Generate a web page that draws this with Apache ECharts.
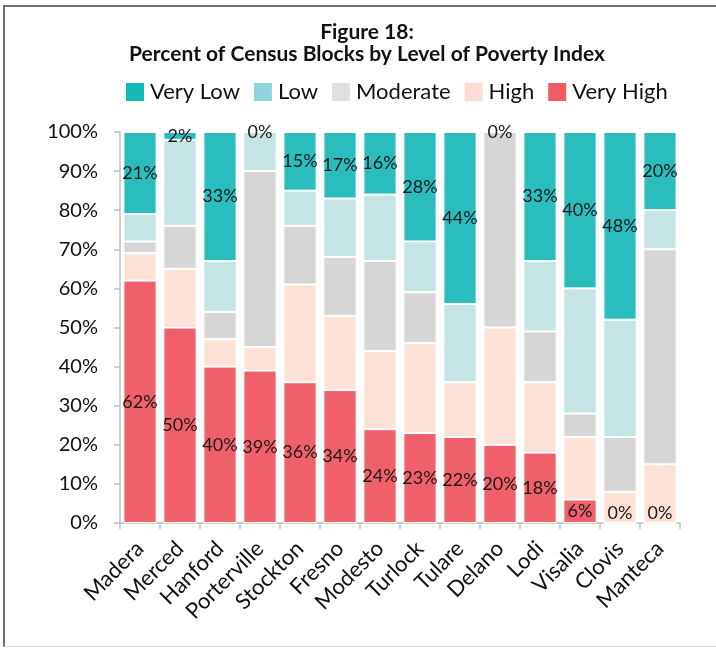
<!DOCTYPE html>
<html>
<head>
<meta charset="utf-8">
<script src="https://cdn.jsdelivr.net/npm/echarts@6/dist/echarts.min.js"></script>
<style>
  html, body { margin: 0; padding: 0; background: #fff; }
  #frame { position: absolute; left: 3px; top: 5px; width: 713px; height: 642px;
           border-top: 2px solid #6d6d72; border-left: 2px solid #6d6d72; border-bottom: 1px solid #dcdcdc; box-sizing: border-box; }
  #chart { position: absolute; left: 0; top: 0; width: 716px; height: 650px; }
</style>
</head>
<body>
<div id="frame"></div>
<div id="chart"></div>
<script>
const cities = ['Madera','Merced','Hanford','Porterville','Stockton','Fresno','Modesto','Turlock','Tulare','Delano','Lodi','Visalia','Clovis','Manteca'];
const veryHigh = [62, 50, 40, 39, 36, 34, 24, 23, 22, 20, 18, 6, 0, 0];
const high     = [7, 15, 7, 6, 25, 19, 20, 23, 14, 30, 18, 16, 8, 15];
const moderate = [3, 11, 7, 45, 15, 15, 23, 13, 0, 50, 13, 6, 14, 55];
const low      = [7, 22, 13, 10, 9, 15, 17, 13, 20, 0, 18, 32, 30, 10];
const veryLow  = [21, 2, 33, 0, 15, 17, 16, 28, 44, 0, 33, 40, 48, 20];
const levelNames = ['Very Low', 'Low', 'Moderate', 'High', 'Very High'];
const yTicks = [0, 10, 20, 30, 40, 50, 60, 70, 80, 90, 100];

const barColors = { 'Very Low': '#2bbdbd', 'Low': '#c4e5e3', 'Moderate': '#d6d6d6', 'High': '#fce1d6', 'Very High': '#f0606a' };
const legendColors = { 'Very Low': '#13bab5', 'Low': '#8fd4dc', 'Moderate': '#dfe1e0', 'High': '#fcdcd4', 'Very High': '#f05a65' };
const FONT = 'Lato';

const labelStyle = {
  show: true, position: 'inside', color: '#1a1a1a', fontFamily: FONT, fontSize: 18,
  formatter: p => Math.round(p.value) + '%'
};

function mkSeries(name, arr, withLabel, zeroBottom) {
  return {
    name: name, type: 'bar', stack: 'total', barCategoryGap: '17%',
    itemStyle: { color: barColors[name], borderColor: '#ffffff', borderWidth: 1 },
    label: withLabel ? labelStyle : { show: false },
    data: arr.map(v => {
      if (withLabel && zeroBottom && v === 0) {
        return { value: v, label: { position: 'top', distance: 0 } };
      }
      return v;
    })
  };
}

const chart = echarts.init(document.getElementById('chart'), null, { renderer: 'canvas' });
chart.setOption({
  animation: false,
  title: {
    text: 'Figure 18:\nPercent of Census Blocks by Level of Poverty Index',
    left: 362, top: 16, textAlign: 'center',
    textStyle: { fontFamily: FONT, fontWeight: 'bold', fontSize: 21, lineHeight: 22, color: '#111' }
  },
  legend: {
    left: 124, top: 81, padding: 0, itemWidth: 20, itemHeight: 20, itemGap: 12,
    textStyle: { fontFamily: FONT, fontSize: 22, color: '#111' },
    data: levelNames.map(n => ({ name: n, icon: 'rect', itemStyle: { color: legendColors[n] } }))
  },
  grid: { left: 120, right: 36, top: 132, bottom: 127, containLabel: false },
  xAxis: {
    type: 'category', data: cities,
    axisLine: { lineStyle: { color: '#bfbfbf', width: 1.5 } },
    axisTick: { show: true, length: 6, lineStyle: { color: '#bfbfbf', width: 1.5 } },
    axisLabel: { rotate: 45, margin: 22, fontFamily: FONT, fontSize: 22, color: '#111', interval: 0 }
  },
  yAxis: {
    type: 'value', min: yTicks[0], max: yTicks[yTicks.length - 1], interval: 10,
    axisLine: { show: true, lineStyle: { color: '#bfbfbf', width: 1.5 } },
    axisTick: { show: true, length: 6, lineStyle: { color: '#bfbfbf', width: 1.5 } },
    splitLine: { show: false },
    axisLabel: { margin: 22, fontFamily: FONT, fontSize: 20, color: '#111', formatter: '{value}%' }
  },
  series: [
    mkSeries('Very High', veryHigh, true, true),
    mkSeries('High', high, false),
    mkSeries('Moderate', moderate, false),
    mkSeries('Low', low, false),
    mkSeries('Very Low', veryLow, true, false)
  ]
});
</script>
</body>
</html>
